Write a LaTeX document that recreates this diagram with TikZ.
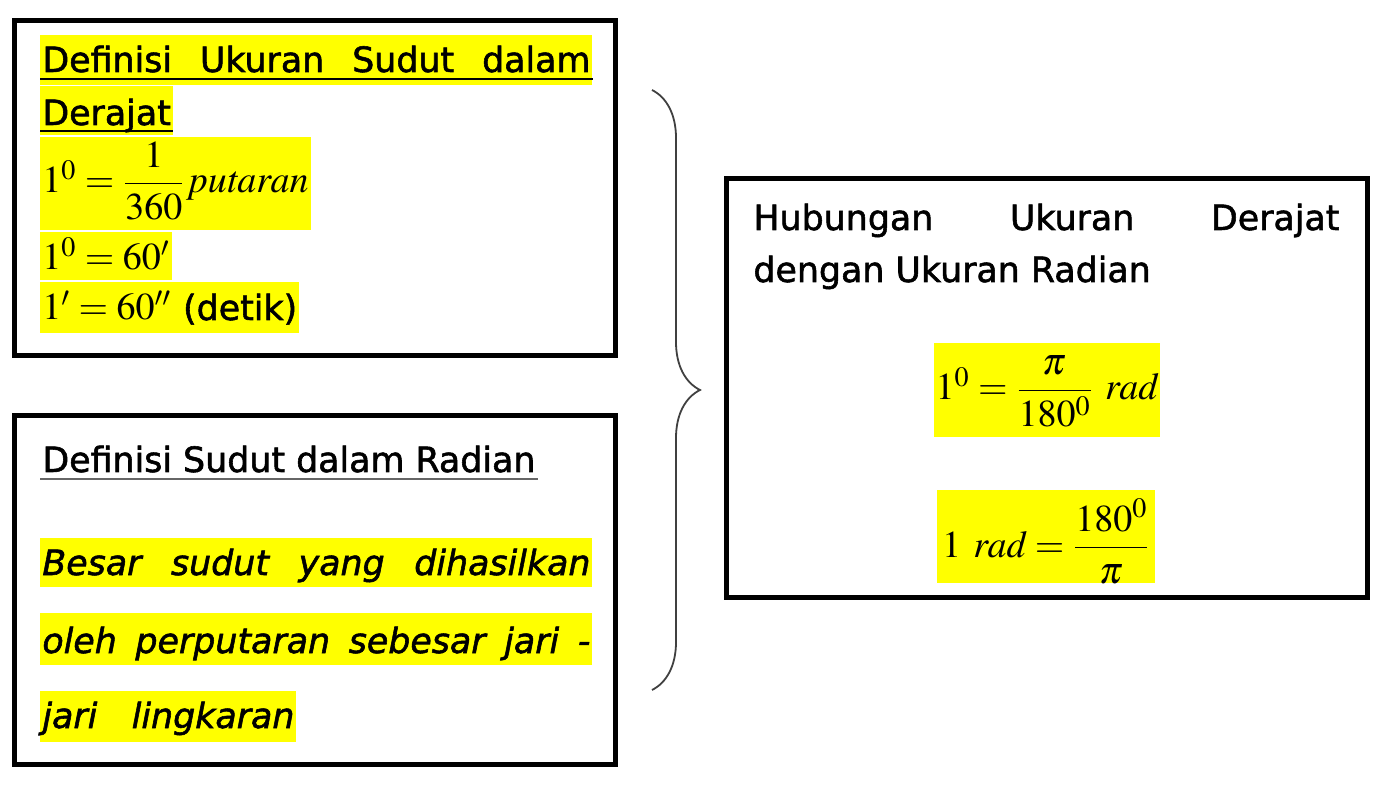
\documentclass[tikz,border=0pt]{standalone}
\usepackage{amsmath}
\usepackage{mathptmx}
\usepackage[no-math]{fontspec}
\setmainfont{DejaVu Sans}[UprightFeatures={FakeBold=1.6}, ItalicFeatures={FakeBold=1.6}]
\usetikzlibrary{decorations.pathreplacing}

\definecolor{hlyellow}{RGB}{255,255,0}
\newcommand\boxfont{\fontsize{17.4}{21}\selectfont}
\newcommand\eqfont{\fontsize{19}{22}\selectfont}

\begin{document}
\begin{tikzpicture}[x=0.5pt, y=-0.5pt,
  frame/.style={draw=black, line width=2.6pt, inner sep=0pt},
  txt/.style={anchor=base west, inner xsep=1pt, inner ysep=0pt, font=\boxfont},
  hl/.style={txt, fill=hlyellow},
  eqn/.style={hl, font=\eqfont},
  uline/.style={line width=1.1pt},
  bracestyle/.style={decorate, decoration={brace, amplitude=24pt}, draw=black!75, line width=0.9pt}]
  \useasboundingbox (0,0) rectangle (1376,796);

  % frames
  \node[frame, minimum width=300.5pt, minimum height=167.5pt] (boxDeg) at (315,188) {};
  \node[frame, minimum width=300.5pt, minimum height=174.5pt] (boxRad) at (315,590) {};
  \node[frame, minimum width=320.5pt, minimum height=209.5pt] (boxRel) at (1047,388) {};

  % derajat
  \node[hl, text height=18.5pt, text depth=6.5pt] (tDeg1) at (40,72) {\makebox[274pt][s]{Definisi Ukuran Sudut dalam}};
  \node[hl, text height=19.5pt, text depth=5pt] (tDeg2) at (40,125) {Derajat\hspace{2pt}};
  \draw[uline] ([yshift=-3.5pt]tDeg1.base west) -- ([yshift=-3.5pt]tDeg1.base east);
  \draw[uline] ([yshift=-3pt]tDeg2.base west) -- ([yshift=-3pt]tDeg2.base east);
  \node[eqn, text height=28pt, text depth=18.5pt] (eDeg1) at (40,193) {$1^0 = \dfrac{1}{360}\,\mathit{putaran}$};
  \node[eqn, text height=19pt, text depth=5pt] (eDeg2) at (40,270) {$1^0 = 60'$};
  \node[eqn, text height=19pt, text depth=6.5pt] (eDeg3) at (40,320) {$1' = 60''$ {\boxfont(detik)}};

  % radian
  \node[txt] (tRad0) at (40,472) {Definisi Sudut dalam Radian};
  \draw[uline, black!60] ([yshift=-3.5pt]tRad0.base west) -- ([yshift=-3.5pt]tRad0.base east);
  \node[hl, font=\boxfont\itshape, text height=18.5pt, text depth=6pt] (tRad1) at (40,575) {\makebox[274pt][s]{Besar sudut yang dihasilkan}};
  \node[hl, font=\boxfont\itshape, text height=20pt, text depth=6pt] (tRad2) at (40,653) {\makebox[274pt][s]{oleh perputaran sebesar jari -}};
  \node[hl, font=\boxfont\itshape, text height=18.5pt, text depth=7pt] (tRad3) at (40,728) {\makebox[126pt][s]{jari lingkaran}};

  % hubungan
  \node[txt] (tRel1) at (751,230) {\makebox[293pt][s]{Hubungan Ukuran Derajat}};
  \node[txt] (tRel2) at (751,282) {dengan Ukuran Radian};
  \node[eqn, anchor=base, minimum width=110.5pt, text height=28.5pt, text depth=18.5pt] (eRel1) at (1047,400) {$1^0 = \dfrac{\pi}{180^0}\ \mathit{rad}$};
  \node[eqn, anchor=base, minimum width=109pt, text height=33.5pt, text depth=13pt] (eRel2) at (1046,557) {$1\ \mathit{rad} = \dfrac{180^0}{\pi}$};

  % brace
  \coordinate (braceTop) at (652,90);
  \coordinate (braceBot) at (652,690);
  \draw[bracestyle] (braceTop) -- (braceBot);
\end{tikzpicture}
\end{document}
